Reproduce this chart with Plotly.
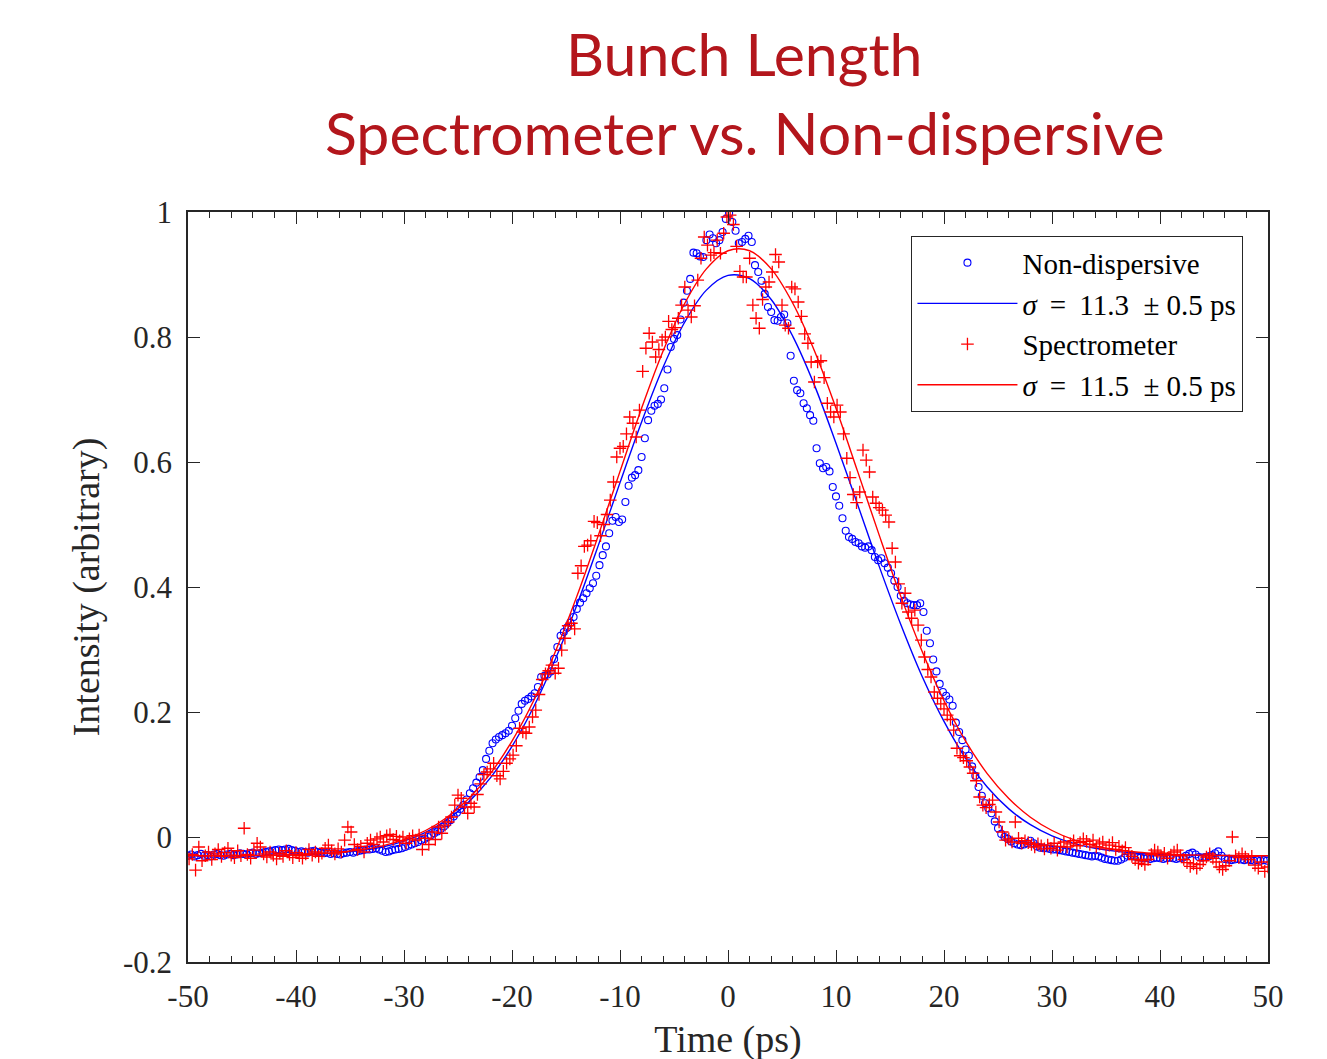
import plotly.graph_objects as go

# ---------------- data ----------------
# Non-dispersive measurement, sampled every 0.3 ps starting at -50 ps
nd_t0, nd_dt = -50.0, 0.3
nd_intensity = [
    -0.030, -0.028, -0.031, -0.029, -0.027, -0.030, -0.029, -0.031, -0.028, -0.027,
    -0.029, -0.030, -0.028, -0.027, -0.029, -0.028, -0.026, -0.027, -0.028, -0.026,
    -0.025, -0.027, -0.026, -0.025, -0.024, -0.023, -0.022, -0.021, -0.020, -0.021,
    -0.020, -0.019, -0.021, -0.022, -0.024, -0.023, -0.024, -0.025, -0.023, -0.022,
    -0.024, -0.025, -0.026, -0.025, -0.027, -0.026, -0.027, -0.028, -0.026, -0.025,
    -0.024, -0.025, -0.023, -0.022, -0.021, -0.020, -0.020, -0.019, -0.018, -0.020,
    -0.022, -0.024, -0.023, -0.021, -0.020, -0.019, -0.018, -0.016, -0.014, -0.012,
    -0.010, -0.008, -0.005, -0.003, 0.000, 0.003, 0.006, 0.009, 0.013, 0.017,
    0.022, 0.027, 0.033, 0.039, 0.045, 0.051, 0.060, 0.070, 0.078, 0.087,
    0.096, 0.107, 0.125, 0.138, 0.150, 0.156, 0.160, 0.163, 0.166, 0.170,
    0.178, 0.190, 0.202, 0.213, 0.218, 0.221, 0.225, 0.230, 0.240, 0.256,
    0.258, 0.260, 0.265, 0.285, 0.304, 0.322, 0.328, 0.335, 0.343, 0.352,
    0.365, 0.375, 0.382, 0.390, 0.398, 0.406, 0.418, 0.435, 0.451, 0.465,
    0.486, 0.506, 0.512, 0.504, 0.508, 0.536, 0.562, 0.575, 0.579, 0.587,
    0.608, 0.638, 0.667, 0.682, 0.690, 0.693, 0.700, 0.718, 0.748, 0.784,
    0.797, 0.803, 0.828, 0.855, 0.874, 0.893, 0.935, 0.934, 0.929, 0.928,
    0.955, 0.964, 0.958, 0.950, 0.955, 0.968, 0.989, 0.998, 0.984, 0.970,
    0.950, 0.952, 0.957, 0.962, 0.952, 0.915, 0.904, 0.890, 0.869, 0.848,
    0.840, 0.827, 0.826, 0.832, 0.836, 0.822, 0.770, 0.730, 0.715, 0.710,
    0.694, 0.686, 0.675, 0.666, 0.622, 0.598, 0.590, 0.592, 0.585, 0.560,
    0.545, 0.530, 0.510, 0.490, 0.480, 0.477, 0.472, 0.470, 0.465, 0.463,
    0.465, 0.459, 0.448, 0.443, 0.446, 0.438, 0.431, 0.422, 0.410, 0.400,
    0.386, 0.378, 0.374, 0.372, 0.371, 0.371, 0.374, 0.360, 0.330, 0.310,
    0.284, 0.265, 0.245, 0.232, 0.226, 0.220, 0.210, 0.183, 0.168, 0.155,
    0.140, 0.130, 0.113, 0.098, 0.080, 0.066, 0.054, 0.046, 0.038, 0.025,
    0.014, 0.005, 0.000, -0.003, -0.007, -0.010, -0.012, -0.013, -0.012, -0.010,
    -0.006, -0.010, -0.015, -0.017, -0.018, -0.018, -0.019, -0.020, -0.020, -0.021,
    -0.022, -0.023, -0.024, -0.025, -0.026, -0.027, -0.028, -0.029, -0.030, -0.031,
    -0.030, -0.031, -0.033, -0.035, -0.036, -0.037, -0.038, -0.038, -0.036, -0.033,
    -0.030, -0.030, -0.031, -0.032, -0.033, -0.034, -0.034, -0.035, -0.034, -0.033,
    -0.034, -0.035, -0.034, -0.033, -0.034, -0.035, -0.034, -0.033, -0.030, -0.027,
    -0.025, -0.028, -0.032, -0.033, -0.032, -0.031, -0.029, -0.026, -0.023, -0.030,
    -0.035, -0.036, -0.037, -0.036, -0.035, -0.036, -0.037, -0.036, -0.037, -0.038,
    -0.037, -0.038, -0.037, -0.038,
]

# Spectrometer measurement, sampled every 0.3 ps starting at -49.9 ps
sp_t0, sp_dt = -49.9, 0.3
sp_intensity = [
    -0.035, -0.028, -0.053, -0.016, -0.038, -0.030, -0.024, -0.036, -0.027, -0.020,
    -0.031, -0.025, -0.018, -0.029, -0.033, -0.022, -0.030, 0.014, -0.028, -0.034,
    -0.021, -0.010, -0.016, -0.027, -0.032, -0.024, -0.029, -0.035, -0.026, -0.031,
    -0.022, -0.028, -0.033, -0.025, -0.030, -0.034, -0.027, -0.020, -0.029, -0.024,
    -0.031, -0.026, -0.018, -0.013, -0.022, -0.027, -0.019, -0.024, -0.005, 0.016,
    0.008, -0.012, -0.020, -0.015, -0.024, -0.010, -0.005, -0.012, -0.003, 0.000,
    -0.008, 0.002, 0.004, -0.004, 0.001, -0.006, 0.000, -0.010, -0.003, 0.002,
    -0.005, 0.003, -0.020, -0.002, -0.012, 0.008, -0.004, 0.016, 0.006, 0.019,
    0.024, 0.032, 0.051, 0.067, 0.062, 0.048, 0.038, 0.054, 0.048, 0.068,
    0.085, 0.100, 0.104, 0.109, 0.118, 0.098, 0.093, 0.105, 0.118, 0.125,
    0.131, 0.146, 0.174, 0.168, 0.166, 0.176, 0.192, 0.203, 0.228, 0.252,
    0.261, 0.266, 0.275, 0.262, 0.270, 0.299, 0.318, 0.338, 0.342, 0.333,
    0.422, 0.434, 0.465, 0.467, 0.474, 0.505, 0.503, 0.482, 0.500, 0.516,
    0.539, 0.568, 0.608, 0.622, 0.625, 0.645, 0.672, 0.662, 0.640, 0.683,
    0.745, 0.782, 0.806, 0.792, 0.768, 0.780, 0.795, 0.800, 0.825, 0.812,
    0.815, 0.830, 0.851, 0.880, 0.843, 0.832, 0.850, 0.891, 0.926, 0.960,
    0.947, 0.931, 0.935, 0.955, 0.934, 0.966, 0.992, 0.995, 0.980, 0.945,
    0.905, 0.896, 0.896, 0.926, 0.851, 0.830, 0.814, 0.860, 0.880, 0.888,
    0.904, 0.932, 0.920, 0.851, 0.819, 0.814, 0.880, 0.877, 0.856, 0.833,
    0.805, 0.790, 0.760, 0.728, 0.760, 0.762, 0.735, 0.694, 0.680, 0.672,
    0.691, 0.680, 0.645, 0.606, 0.575, 0.548, 0.535, 0.552, 0.619, 0.603,
    0.584, 0.544, 0.534, 0.527, 0.523, 0.515, 0.504, 0.462, 0.440, 0.405,
    0.374, 0.390, 0.360, 0.350, 0.363, 0.339, 0.315, 0.288, 0.268, 0.256,
    0.232, 0.222, 0.213, 0.205, 0.195, 0.188, 0.171, 0.142, 0.130, 0.127,
    0.122, 0.112, 0.102, 0.090, 0.064, 0.051, 0.047, 0.052, 0.059, 0.040,
    0.024, 0.008, -0.005, -0.003, -0.008, 0.024, -0.002, -0.010, -0.006, -0.009,
    -0.012, -0.016, -0.011, -0.014, -0.019, -0.013, -0.018, -0.010, -0.021, -0.015,
    -0.008, -0.016, -0.011, -0.006, -0.014, -0.009, -0.003, -0.007, -0.012, -0.005,
    -0.016, -0.011, -0.008, -0.019, -0.013, -0.009, -0.020, -0.015, -0.022, -0.017,
    -0.027, -0.031, -0.036, -0.042, -0.038, -0.044, -0.036, -0.028, -0.021, -0.024,
    -0.030, -0.026, -0.034, -0.029, -0.024, -0.021, -0.030, -0.036, -0.041, -0.047,
    -0.043, -0.050, -0.044, -0.038, -0.032, -0.027, -0.034, -0.040, -0.048, -0.052,
    -0.046, -0.038, 0.000, -0.030, -0.033, -0.027, -0.032, -0.036, -0.031, -0.045,
    -0.050, -0.040, -0.055, -0.048,
]

# Gaussian fit curves, every 2 ps from -50 ps
fit_t0, fit_dt = -50.0, 2.0
nd_fit = [
    -0.030, -0.030, -0.030, -0.0297, -0.0293, -0.0285, -0.0273, -0.025, -0.0215, -0.016,
    -0.0065, 0.0074, 0.0277, 0.0562, 0.0947, 0.145, 0.208, 0.284, 0.371, 0.467,
    0.567, 0.664, 0.752, 0.824, 0.875, 0.8985, 0.8934, 0.860, 0.801, 0.723,
    0.630, 0.532, 0.433, 0.340, 0.256, 0.185, 0.126, 0.080, 0.045, 0.0197,
    0.0019, -0.0102, -0.0181, -0.023, -0.026, -0.0278, -0.0288, -0.0294, -0.0297, -0.0299,
    -0.030,
]
sp_fit = [
    -0.030, -0.030, -0.0299, -0.0296, -0.0291, -0.0283, -0.0268, -0.0245, -0.0205, -0.0142,
    -0.0043, 0.0104, 0.0317, 0.0616, 0.1015, 0.1535, 0.218, 0.296, 0.385, 0.483,
    0.585, 0.686, 0.778, 0.854, 0.909, 0.938, 0.938, 0.909, 0.854, 0.778,
    0.686, 0.585, 0.483, 0.385, 0.296, 0.218, 0.1535, 0.1015, 0.0616, 0.0317,
    0.0104, -0.0043, -0.0142, -0.0205, -0.0245, -0.0268, -0.0283, -0.0291, -0.0296, -0.0299,
    -0.030,
]

series_names = ["Non-dispersive", "<i>σ</i>\u2009 = \u200911.3 &nbsp;± 0.5 ps",
                "Spectrometer", "<i>σ</i>\u2009 = \u200911.5 &nbsp;± 0.5 ps"]
x_tick_vals = [-50, -40, -30, -20, -10, 0, 10, 20, 30, 40, 50]
x_tick_text = ["-50", "-40", "-30", "-20", "-10", "0", "10", "20", "30", "40", "50"]
y_tick_vals = [-0.2, 0, 0.2, 0.4, 0.6, 0.8, 1]
y_tick_text = ["-0.2", "0", "0.2", "0.4", "0.6", "0.8", "1"]
title_lines = ["Bunch Length", "Spectrometer vs. Non-dispersive"]

# ---------------- build ----------------
nd_time = [round(nd_t0 + i * nd_dt, 3) for i in range(len(nd_intensity))]
sp_time = [round(sp_t0 + i * sp_dt, 3) for i in range(len(sp_intensity))]
fit_time = [round(fit_t0 + i * fit_dt, 3) for i in range(len(nd_fit))]

BLUE = "#0000FF"
RED = "#FF0000"
AX = "#262626"
SERIF = "Liberation Serif, Times New Roman, serif"

fig = go.Figure()
fig.add_trace(go.Scatter(
    x=nd_time, y=nd_intensity, mode="markers", name=series_names[0],
    marker=dict(symbol="circle-open", size=7, color=BLUE, line=dict(width=1.1, color=BLUE))))
fig.add_trace(go.Scatter(
    x=fit_time, y=nd_fit, mode="lines", name=series_names[1],
    line=dict(color=BLUE, width=1.4, shape="spline")))
fig.add_trace(go.Scatter(
    x=sp_time, y=sp_intensity, mode="markers", name=series_names[2],
    marker=dict(symbol="cross-thin-open", size=9, color=RED, line=dict(width=1.3, color=RED))))
fig.add_trace(go.Scatter(
    x=fit_time, y=sp_fit, mode="lines", name=series_names[3],
    line=dict(color=RED, width=1.4, shape="spline")))

axis_common = dict(
    showline=True, linecolor=AX, linewidth=1.5, mirror="allticks",
    ticks="inside", tickcolor=AX, tickwidth=1.3, ticklen=12,
    showgrid=False, zeroline=False,
    tickfont=dict(family=SERIF, size=31, color=AX),
)

fig.update_xaxes(
    range=[-50, 50], tickmode="array", tickvals=x_tick_vals, ticktext=x_tick_text,
    minor=dict(dtick=2, ticks="inside", ticklen=6, tickcolor=AX, tickwidth=1.2),
    title=dict(text="Time (ps)", font=dict(family=SERIF, size=38, color=AX), standoff=12),
    automargin=False, ticklabelstandoff=6,
    **axis_common)
fig.update_yaxes(
    range=[-0.2, 1], tickmode="array", tickvals=y_tick_vals, ticktext=y_tick_text,
    title=dict(text="Intensity (arbitrary)", font=dict(family=SERIF, size=38, color=AX), standoff=12),
    automargin=False, ticklabelstandoff=8,
    **axis_common)

TITLE_COLOR = "#B3161C"
TITLE_FONT = dict(family="Lato, Open Sans, sans-serif", size=59, color=TITLE_COLOR)
fig.add_annotation(text=title_lines[0], xref="paper", yref="paper", x=0.5157, y=1.212,
                   xanchor="center", yanchor="middle", showarrow=False, font=TITLE_FONT)
fig.add_annotation(text=title_lines[1], xref="paper", yref="paper", x=0.5157, y=1.106,
                   xanchor="center", yanchor="middle", showarrow=False, font=TITLE_FONT)

fig.update_layout(
    width=1327, height=1059,
    margin=dict(l=180, r=67, t=204, b=105),
    paper_bgcolor="white", plot_bgcolor="white",
    showlegend=True,
    legend=dict(x=0.977, y=0.968, xanchor="right", yanchor="top",
                bgcolor="white", bordercolor=AX, borderwidth=1.3,
                font=dict(family=SERIF, size=29, color="black"),
                itemwidth=100, tracegroupgap=0),
)

fig.write_html("out.html")
